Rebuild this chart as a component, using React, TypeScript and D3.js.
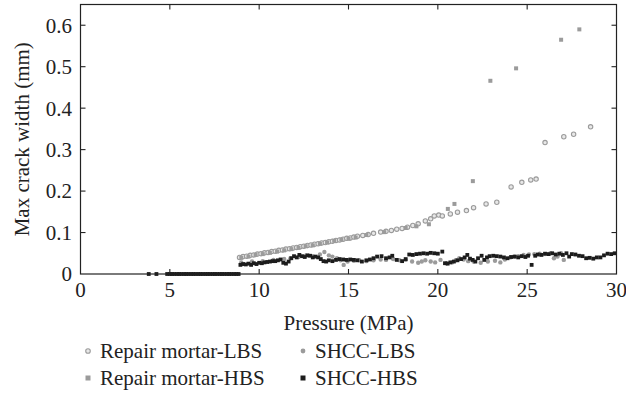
import React from "react";
import * as d3 from "d3";

// ---- Data ----
const xTicks = [0, 5, 10, 15, 20, 25, 30];
const yTicks = [0, 0.1, 0.2, 0.3, 0.4, 0.5, 0.6];
const yTickLabels = ["0", "0.1", "0.2", "0.3", "0.4", "0.5", "0.6"];

// Repair mortar-LBS (open circles)
const rmLbsP = [8.9, 9.1, 9.3, 9.5, 9.7, 9.9, 10.1, 10.3, 10.5, 10.7, 10.9, 11.1, 11.3, 11.5, 11.7, 11.9, 12.1, 12.3, 12.5, 12.7, 12.9, 13.1, 13.3, 13.5, 13.7, 13.9, 14.1, 14.3, 14.5, 14.7, 14.9, 15.1, 15.3, 15.5, 15.8, 16.1, 16.4, 16.8, 17.1, 17.4, 17.7, 18.0, 18.3, 18.6, 18.9, 19.3, 19.6, 19.8, 20.05, 20.25, 20.7, 21.1, 21.6, 22.0, 22.7, 23.3, 24.1, 24.7, 25.2, 25.5, 26.0, 27.05, 27.6, 28.55];
const rmLbsW = [0.040, 0.042, 0.043, 0.045, 0.046, 0.048, 0.049, 0.051, 0.052, 0.054, 0.055, 0.057, 0.058, 0.060, 0.061, 0.063, 0.064, 0.066, 0.067, 0.069, 0.070, 0.072, 0.073, 0.075, 0.076, 0.078, 0.079, 0.081, 0.082, 0.084, 0.086, 0.087, 0.089, 0.091, 0.093, 0.095, 0.098, 0.101, 0.103, 0.105, 0.108, 0.110, 0.113, 0.117, 0.121, 0.128, 0.133, 0.140, 0.142, 0.140, 0.145, 0.149, 0.153, 0.160, 0.169, 0.173, 0.210, 0.221, 0.227, 0.229, 0.317, 0.331, 0.337, 0.355];

// Repair mortar-HBS (grey squares)
const rmHbsP = [9.0, 9.4, 9.8, 10.2, 10.6, 11.0, 11.4, 11.8, 12.2, 12.6, 13.0, 13.4, 13.8, 14.2, 14.6, 15.0, 15.4, 16.0, 17.0, 18.2, 18.8, 19.5, 20.56, 20.93, 21.96, 22.94, 24.38, 26.9, 27.92];
const rmHbsW = [0.039, 0.042, 0.046, 0.048, 0.051, 0.054, 0.057, 0.060, 0.063, 0.067, 0.069, 0.073, 0.076, 0.080, 0.083, 0.085, 0.088, 0.094, 0.101, 0.111, 0.115, 0.120, 0.157, 0.169, 0.224, 0.466, 0.496, 0.565, 0.590];

// SHCC-LBS (grey filled circles)
const shLbsP = [9.0, 9.6, 10.2, 10.8, 11.4, 11.75, 12.2, 12.6, 13.0, 13.4, 13.65, 13.9, 14.1, 14.35, 14.55, 14.73, 14.95, 15.3, 15.6, 16.0, 16.4, 16.8, 17.1, 17.5, 17.85, 18.2, 18.56, 18.9, 19.1, 19.3, 19.6, 19.85, 20.15, 20.5, 20.8, 21.0, 21.2, 21.45, 21.7, 22.0, 22.4, 22.8, 23.2, 23.5, 23.75, 24.06, 24.3, 24.5, 24.8, 25.1, 25.4, 25.7, 26.0, 26.3, 26.5, 26.7, 26.9, 27.05];
const shLbsW = [0.028, 0.030, 0.031, 0.034, 0.036, 0.038, 0.041, 0.044, 0.043, 0.047, 0.053, 0.045, 0.042, 0.038, 0.033, 0.022, 0.030, 0.032, 0.033, 0.031, 0.033, 0.035, 0.034, 0.036, 0.033, 0.034, 0.030, 0.027, 0.030, 0.033, 0.030, 0.028, 0.034, 0.026, 0.028, 0.033, 0.038, 0.035, 0.031, 0.030, 0.027, 0.030, 0.032, 0.028, 0.035, 0.040, 0.042, 0.043, 0.046, 0.047, 0.048, 0.049, 0.048, 0.050, 0.038, 0.042, 0.050, 0.034];

// SHCC-HBS (black squares)
const shHbsP = [3.82, 4.25, 4.85, 5.0, 5.12, 5.25, 5.4, 5.52, 5.65, 5.8, 5.92, 6.05, 6.2, 6.32, 6.45, 6.6, 6.72, 6.85, 7.0, 7.12, 7.25, 7.4, 7.52, 7.65, 7.8, 7.92, 8.05, 8.2, 8.32, 8.45, 8.6, 8.72, 8.85,
  8.95, 9.1, 9.25, 9.4, 9.55, 9.7, 9.85, 10.0, 10.15, 10.3, 10.45, 10.6, 10.75, 10.9, 11.05, 11.2, 11.35, 11.5, 11.65, 11.8, 11.95, 12.1, 12.25, 12.4, 12.55, 12.7, 12.85, 13.0, 13.15, 13.3, 13.45, 13.6, 13.75, 13.9, 14.1, 14.3, 14.5, 14.7, 14.9, 15.1, 15.3, 15.5, 15.75, 16.0, 16.2, 16.4, 16.6, 16.85, 17.1, 17.3, 17.45, 17.7, 18.0, 18.2, 18.4, 18.6, 18.8, 19.0, 19.2, 19.4, 19.6, 19.8, 20.0, 20.25, 20.4, 20.55, 20.7, 20.9, 21.1, 21.3, 21.5, 21.65, 21.8, 21.95, 22.1, 22.25, 22.45, 22.6, 22.75, 22.9, 23.1, 23.3, 23.5, 23.7, 23.9, 24.1, 24.3, 24.5, 24.7, 24.9, 25.05, 25.25, 25.45, 25.6, 25.8, 26.0, 26.2, 26.4, 26.6, 26.8, 27.0, 27.2, 27.35, 27.5, 27.7, 27.9, 28.1, 28.3, 28.5, 28.7, 28.9, 29.1, 29.3, 29.5, 29.7, 29.9];
const shHbsW = [0, 0, 0, 0, 0, 0, 0, 0, 0, 0, 0, 0, 0, 0, 0, 0, 0, 0, 0, 0, 0, 0, 0, 0, 0, 0, 0, 0, 0, 0, 0, 0, 0,
  0.022, 0.024, 0.023, 0.025, 0.022, 0.026, 0.024, 0.027, 0.026, 0.028, 0.029, 0.030, 0.031, 0.031, 0.033, 0.035, 0.027, 0.025, 0.030, 0.038, 0.043, 0.040, 0.046, 0.043, 0.041, 0.045, 0.044, 0.040, 0.042, 0.040, 0.036, 0.031, 0.030, 0.033, 0.031, 0.034, 0.036, 0.035, 0.034, 0.035, 0.034, 0.033, 0.030, 0.033, 0.035, 0.038, 0.042, 0.043, 0.038, 0.040, 0.044, 0.034, 0.031, 0.036, 0.047, 0.046, 0.048, 0.049, 0.050, 0.049, 0.051, 0.050, 0.049, 0.054, 0.026, 0.025, 0.028, 0.030, 0.033, 0.036, 0.040, 0.046, 0.037, 0.034, 0.030, 0.038, 0.044, 0.034, 0.040, 0.043, 0.044, 0.043, 0.042, 0.040, 0.038, 0.041, 0.042, 0.040, 0.043, 0.041, 0.044, 0.022, 0.044, 0.047, 0.046, 0.049, 0.048, 0.050, 0.047, 0.049, 0.046, 0.050, 0.042, 0.048, 0.047, 0.044, 0.043, 0.038, 0.039, 0.037, 0.040, 0.040, 0.045, 0.049, 0.048, 0.050];

const seriesNames = ["Repair mortar-LBS", "Repair mortar-HBS", "SHCC-LBS", "SHCC-HBS"];

const W = 626;
const H = 415;
const FONT = "Liberation Serif, DejaVu Serif, serif";
const GREY = "#9b9b9b";
const BLACK = "#1c1c1c";
const FS = 21;

export default function App() {
  const x = d3.scaleLinear().domain([0, 30]).range([80.5, 616.5]);
  const y = d3.scaleLinear().domain([0, 0.65]).range([274, 4.5]);
  const [x0, x1] = x.range();
  const [yb, yt] = y.range();
  const tl = 5;

  const zip = (p: number[], w: number[]) => p.map((v, i) => [v, w[i]] as [number, number]);

  const openCircle = (cx: number, cy: number, k: string, r = 2.2) => (
    <circle key={k} cx={cx} cy={cy} r={r} fill="#e8e8e8" stroke={GREY} strokeWidth={1.1} />
  );
  const square = (cx: number, cy: number, k: string, c: string, s = 4) => (
    <rect key={k} x={cx - s / 2} y={cy - s / 2} width={s} height={s} fill={c} />
  );
  const dot = (cx: number, cy: number, k: string, r = 2.2) => (
    <circle key={k} cx={cx} cy={cy} r={r} fill={GREY} />
  );

  const legendItems = [
    { name: seriesNames[0], lx: 88, ly: 351, kind: "open" },
    { name: seriesNames[2], lx: 303, ly: 351, kind: "dot" },
    { name: seriesNames[1], lx: 88, ly: 378, kind: "gsq" },
    { name: seriesNames[3], lx: 303, ly: 378, kind: "bsq" },
  ];

  const textStyle = { fontFamily: FONT };

  return (
    <svg width={W} height={H} style={{ position: "absolute", left: 0, top: 0, background: "#fff", fontFamily: FONT }}>
      <rect x={0} y={0} width={W} height={H} fill="#fff" />
      {/* markers */}
      <g>
        {zip(rmLbsP, rmLbsW).map(([p, w], i) => openCircle(x(p), y(w), "a" + i))}
        {zip(rmHbsP, rmHbsW).map(([p, w], i) => square(x(p), y(w), "b" + i, GREY))}
        {zip(shLbsP, shLbsW).map(([p, w], i) => dot(x(p), y(w), "c" + i))}
        {zip(shHbsP, shHbsW).map(([p, w], i) => square(x(p), y(w), "d" + i, BLACK, 3.8))}
      </g>
      {/* frame */}
      <rect x={x0} y={yt} width={x1 - x0} height={yb - yt} fill="none" stroke="#222" strokeWidth={1.2} />
      {/* ticks */}
      <g stroke="#222" strokeWidth={1.1}>
        {xTicks.slice(1, -1).map((t) => (
          <g key={"xt" + t}>
            <line x1={x(t)} x2={x(t)} y1={yb} y2={yb - tl} />
            <line x1={x(t)} x2={x(t)} y1={yt} y2={yt + tl} />
          </g>
        ))}
        {yTicks.slice(1).map((t) => (
          <g key={"yt" + t}>
            <line x1={x0} x2={x0 + tl} y1={y(t)} y2={y(t)} />
            <line x1={x1} x2={x1 - tl} y1={y(t)} y2={y(t)} />
          </g>
        ))}
      </g>
      {/* tick labels */}
      <g fontSize={FS} fill="#222" style={textStyle}>
        {xTicks.map((t) => (
          <text key={"xl" + t} x={x(t)} y={297} textAnchor="middle" style={textStyle}>{t}</text>
        ))}
        {yTicks.map((t, i) => (
          <text key={"yl" + t} x={72} y={y(t)} dy="0.35em" textAnchor="end" style={textStyle}>{yTickLabels[i]}</text>
        ))}
      </g>
      {/* axis titles */}
      <text x={(x0 + x1) / 2} y={330} textAnchor="middle" fontSize={FS} fill="#222" style={textStyle}>Pressure (MPa)</text>
      <text transform={`translate(29,${(yb + yt) / 2}) rotate(-90)`} textAnchor="middle" fontSize={FS} fill="#222" style={textStyle}>Max crack width (mm)</text>
      {/* legend */}
      <g fontSize={FS} fill="#222">
        {legendItems.map((it) => (
          <g key={it.name}>
            {it.kind === "open" && openCircle(it.lx, it.ly, "lo", 2.3)}
            {it.kind === "dot" && dot(it.lx, it.ly, "ld", 2.4)}
            {it.kind === "gsq" && square(it.lx, it.ly, "lg", GREY, 5)}
            {it.kind === "bsq" && square(it.lx, it.ly, "lb", BLACK, 5)}
            <text x={it.lx + 12} y={it.ly + 7} style={textStyle}>{it.name}</text>
          </g>
        ))}
      </g>
    </svg>
  );
}
